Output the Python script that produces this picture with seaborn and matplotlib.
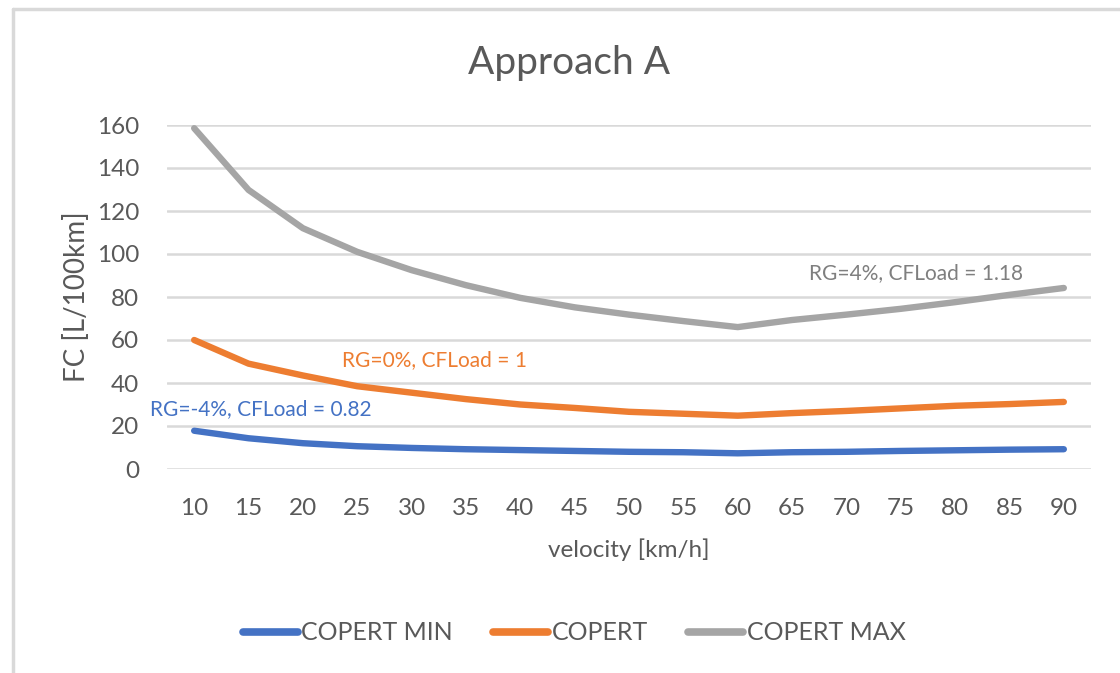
import matplotlib
matplotlib.use("Agg")
import matplotlib.pyplot as plt
import seaborn as sns
import pandas as pd
from matplotlib.lines import Line2D

velocity = [10, 15, 20, 25, 30, 35, 40, 45, 50, 55, 60, 65, 70, 75, 80, 85, 90]
copert_min = [17.8, 14.3, 12.0, 10.6, 9.8, 9.2, 8.8, 8.4, 8.0, 7.8, 7.3, 7.8, 8.0, 8.4, 8.7, 9.0, 9.2]
copert = [60.0, 49.0, 43.5, 38.5, 35.5, 32.5, 30.0, 28.4, 26.6, 25.7, 24.8, 26.0, 27.0, 28.2, 29.4, 30.2, 31.2]
copert_max = [158.5, 129.8, 112.0, 101.0, 92.5, 85.5, 79.6, 75.2, 71.8, 68.8, 66.0, 69.3, 71.8, 74.5, 77.6, 81.0, 84.2]
series_names = ["COPERT MIN", "COPERT", "COPERT MAX"]
colors = ["#4472C4", "#ED7D31", "#A5A5A5"]
title = "Approach A"
xlabel = "velocity [km/h]"
ylabel = "FC [L/100km]"
yticks = [0, 20, 40, 60, 80, 100, 120, 140, 160]
notes = ["RG=-4%, CFLoad = 0.82", "RG=0%, CFLoad = 1", "RG=4%, CFLoad = 1.18"]

df = pd.concat([
    pd.DataFrame({"velocity": velocity, "FC": vals, "series": name})
    for name, vals in zip(series_names, [copert_min, copert, copert_max])
])

sns.set_theme(style="white")
plt.rcParams["font.family"] = ["Lato", "DejaVu Sans"]
text_col = "#595959"

W, H = 1120, 673
fig = plt.figure(figsize=(W / 100, H / 100), dpi=100)
ax = fig.add_axes([167 / W, 1 - 469 / H, (1091 - 167) / W, (469 - 125) / H])

sns.lineplot(data=df, x="velocity", y="FC", hue="series", palette=dict(zip(series_names, colors)),
             linewidth=4.6, ax=ax, legend=False, solid_capstyle="round", zorder=3)

ax.set_xlim(7.5, 92.5)
ax.set_ylim(0, 160)
ax.set_xticks(velocity)
ax.set_xticklabels([str(v) for v in velocity])
ax.set_yticks(yticks)
ax.grid(axis="y", color="#D9D9D9", linewidth=1.8, zorder=0)
ax.grid(axis="x", visible=False)
for s in ax.spines.values():
    s.set_visible(False)
ax.tick_params(axis="both", length=0, labelsize=17.5, labelcolor=text_col)
ax.tick_params(axis="y", pad=20)
ax.tick_params(axis="x", pad=21)
ax.set_xlabel(xlabel, fontsize=17.5, color=text_col, labelpad=14)
ax.set_ylabel(ylabel, fontsize=20, color=text_col, labelpad=5)
fig.text(569 / W, 1 - 63 / H, title, ha="center", va="center", fontsize=28, color=text_col)

# annotations
ax.text(150 / W, 1 - 409 / H, notes[0], transform=fig.transFigure, color=colors[0], fontsize=15, va="center", ha="left")
ax.text(342 / W, 1 - 360 / H, notes[1], transform=fig.transFigure, color=colors[1], fontsize=15, va="center", ha="left")
ax.text(809 / W, 1 - 273 / H, notes[2], transform=fig.transFigure, color="#7F7F7F", fontsize=15, va="center", ha="left")

handles = [Line2D([0], [0], color=c, linewidth=5.5, solid_capstyle="round") for c in colors]
fig.legend(handles, series_names, loc="center", bbox_to_anchor=(574 / W, 1 - 633 / H), ncol=3,
           frameon=False, fontsize=18, labelcolor=text_col, handlelength=2.2, handletextpad=0.15,
           columnspacing=1.6)

# chart frame (left and top edges)
fig.add_artist(Line2D([13 / W, 13 / W], [0, 1 - 9 / H], color="#D9D9D9", linewidth=2.5, transform=fig.transFigure))
fig.add_artist(Line2D([13 / W, 1], [1 - 9 / H, 1 - 9 / H], color="#D9D9D9", linewidth=2.5, transform=fig.transFigure))

fig.savefig("out.png", dpi=100, facecolor="white")
